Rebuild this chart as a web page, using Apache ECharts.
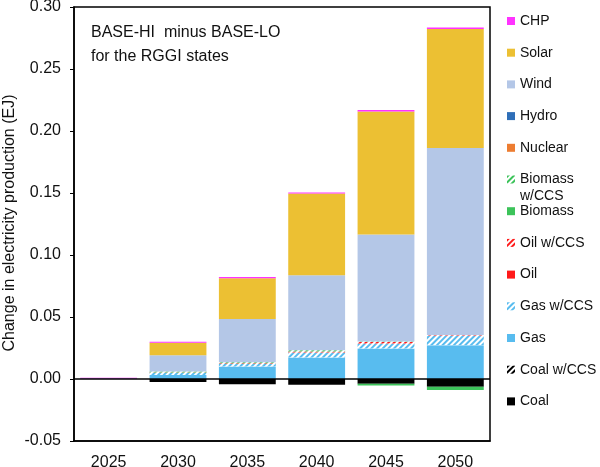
<!DOCTYPE html>
<html>
<head>
<meta charset="utf-8">
<script src="https://cdn.jsdelivr.net/npm/echarts@6/dist/echarts.min.js"></script>
<style>html,body{margin:0;padding:0;background:#fff}#c{width:600px;height:467px}</style>
</head>
<body>
<div id="c"></div>
<script>
const categories = ['2025','2030','2035','2040','2045','2050'];
const coal       = [0, -0.0025, -0.0042, -0.0047, -0.0039, -0.0062];
const coalCCS    = [0, 0, 0, 0, 0, 0];
const gas        = [0, 0.0032, 0.0100, 0.0173, 0.0246, 0.0273];
const gasCCS     = [0, 0.0016, 0.0020, 0.0040, 0.0040, 0.0078];
const oil        = [0, 0, 0, 0, 0, 0];
const oilCCS     = [0, 0.0005, 0.0008, 0.0008, 0.0012, 0.0004];
const biomass    = [0, 0, 0, 0, -0.0013, -0.0027];
const biomassCCS = [0, 0.0008, 0.0008, 0.0010, 0.0004, 0];
const nuclear    = [0, 0, 0, 0, 0, 0];
const hydro      = [0.0004, 0, 0, 0, 0, 0];
const wind       = [0, 0.0130, 0.0347, 0.0605, 0.0863, 0.1508];
const solar      = [0, 0.0102, 0.0330, 0.0660, 0.0992, 0.0960];
const chp        = [0.0006, 0.0008, 0.0010, 0.0008, 0.0012, 0.0012];
const yTicks = [-0.05, 0, 0.05, 0.10, 0.15, 0.20, 0.25, 0.30];
const yTitle = 'Change in electricity production (EJ)';

function stripe(c){
  return {symbol:'rect', symbolSize:1, color:c, dashArrayX:[1,0], dashArrayY:[2,2], rotation:-Math.PI/4};
}
const defs = [
  ['Coal', coal, '#000000', null],
  ['Coal w/CCS', coalCCS, '#ffffff', stripe('#000000')],
  ['Gas', gas, '#58bcef', null],
  ['Gas w/CCS', gasCCS, '#ffffff', stripe('#58bcef')],
  ['Oil', oil, '#ff1a1a', null],
  ['Oil w/CCS', oilCCS, '#ffffff', stripe('#ff1a1a')],
  ['Biomass', biomass, '#3cc35a', null],
  ['Biomass w/CCS', biomassCCS, '#ffffff', stripe('#3cc35a')],
  ['Nuclear', nuclear, '#ed7d31', null],
  ['Hydro', hydro, '#2f6fb8', null],
  ['Wind', wind, '#b4c7e7', null],
  ['Solar', solar, '#ecc033', null],
  ['CHP', chp, '#ff33ff', null]
];
const series = defs.map(function(d, i){
  const s = {
    name: d[0], type:'bar', stack:'total', data:d[1],
    barCategoryGap:'18%',
    itemStyle:{color:d[2]},
    emphasis:{disabled:true}
  };
  if (d[3]) s.itemStyle.decal = d[3];
  if (i === 0) {
    s.markLine = {silent:true, symbol:'none', label:{show:false},
      lineStyle:{color:'#000', width:1.5, type:'solid'}, data:[{yAxis:0}]};
  }
  return s;
});
const legendOrder = defs.map(d => d[0]).reverse();
const FF = 'Liberation Sans, Arial, sans-serif';

const chart = echarts.init(document.getElementById('c'), null, {renderer:'canvas'});
chart.setOption({
  animation:false,
  backgroundColor:'#fff',
  textStyle:{fontFamily:FF},
  title:{
    text:'BASE-HI  minus BASE-LO\nfor the RGGI states',
    left:91, top:21, padding:0,
    textStyle:{fontSize:16, fontWeight:'normal', color:'#111', lineHeight:24}
  },
  legend:{
    orient:'vertical', left:507, top:13, padding:0,
    itemWidth:8, itemHeight:8, itemGap:15.7,
    icon:'rect',
    data:legendOrder,
    textStyle:{fontSize:14, color:'#111', lineHeight:16},
    formatter:function(n){ return n === 'Biomass w/CCS' ? 'Biomass' : n; }
  },
  graphic:[
    {type:'text', left:520, top:189, style:{text:'w/CCS', fontSize:14, fill:'#111', fontFamily:FF}},
    {type:'text', x:10, y:223, rotation:Math.PI/2,
     style:{text:yTitle, fontSize:16, fill:'#111', fontFamily:FF, align:'center', verticalAlign:'middle'}}
  ],
  grid:{left:74, right:110, top:7, bottom:26, show:true, borderColor:'#000', borderWidth:1.5,
        backgroundColor:'transparent', containLabel:false, outerBoundsMode:'none'},
  xAxis:{
    type:'category', data:categories,
    axisLine:{onZero:false, lineStyle:{color:'#000', width:1.5}},
    axisTick:{show:false},
    axisLabel:{fontSize:16, color:'#111', margin:14}
  },
  yAxis:{
    type:'value', min:yTicks[0], max:yTicks[yTicks.length-1], interval:0.05,
    axisLine:{show:true, lineStyle:{color:'#000', width:1.5}},
    axisTick:{show:true, length:4, lineStyle:{color:'#000'}},
    splitLine:{show:false},
    axisLabel:{fontSize:16, color:'#111', margin:13, formatter:function(v){return v.toFixed(2);}}
  },
  series:series
});
</script>
</body>
</html>
